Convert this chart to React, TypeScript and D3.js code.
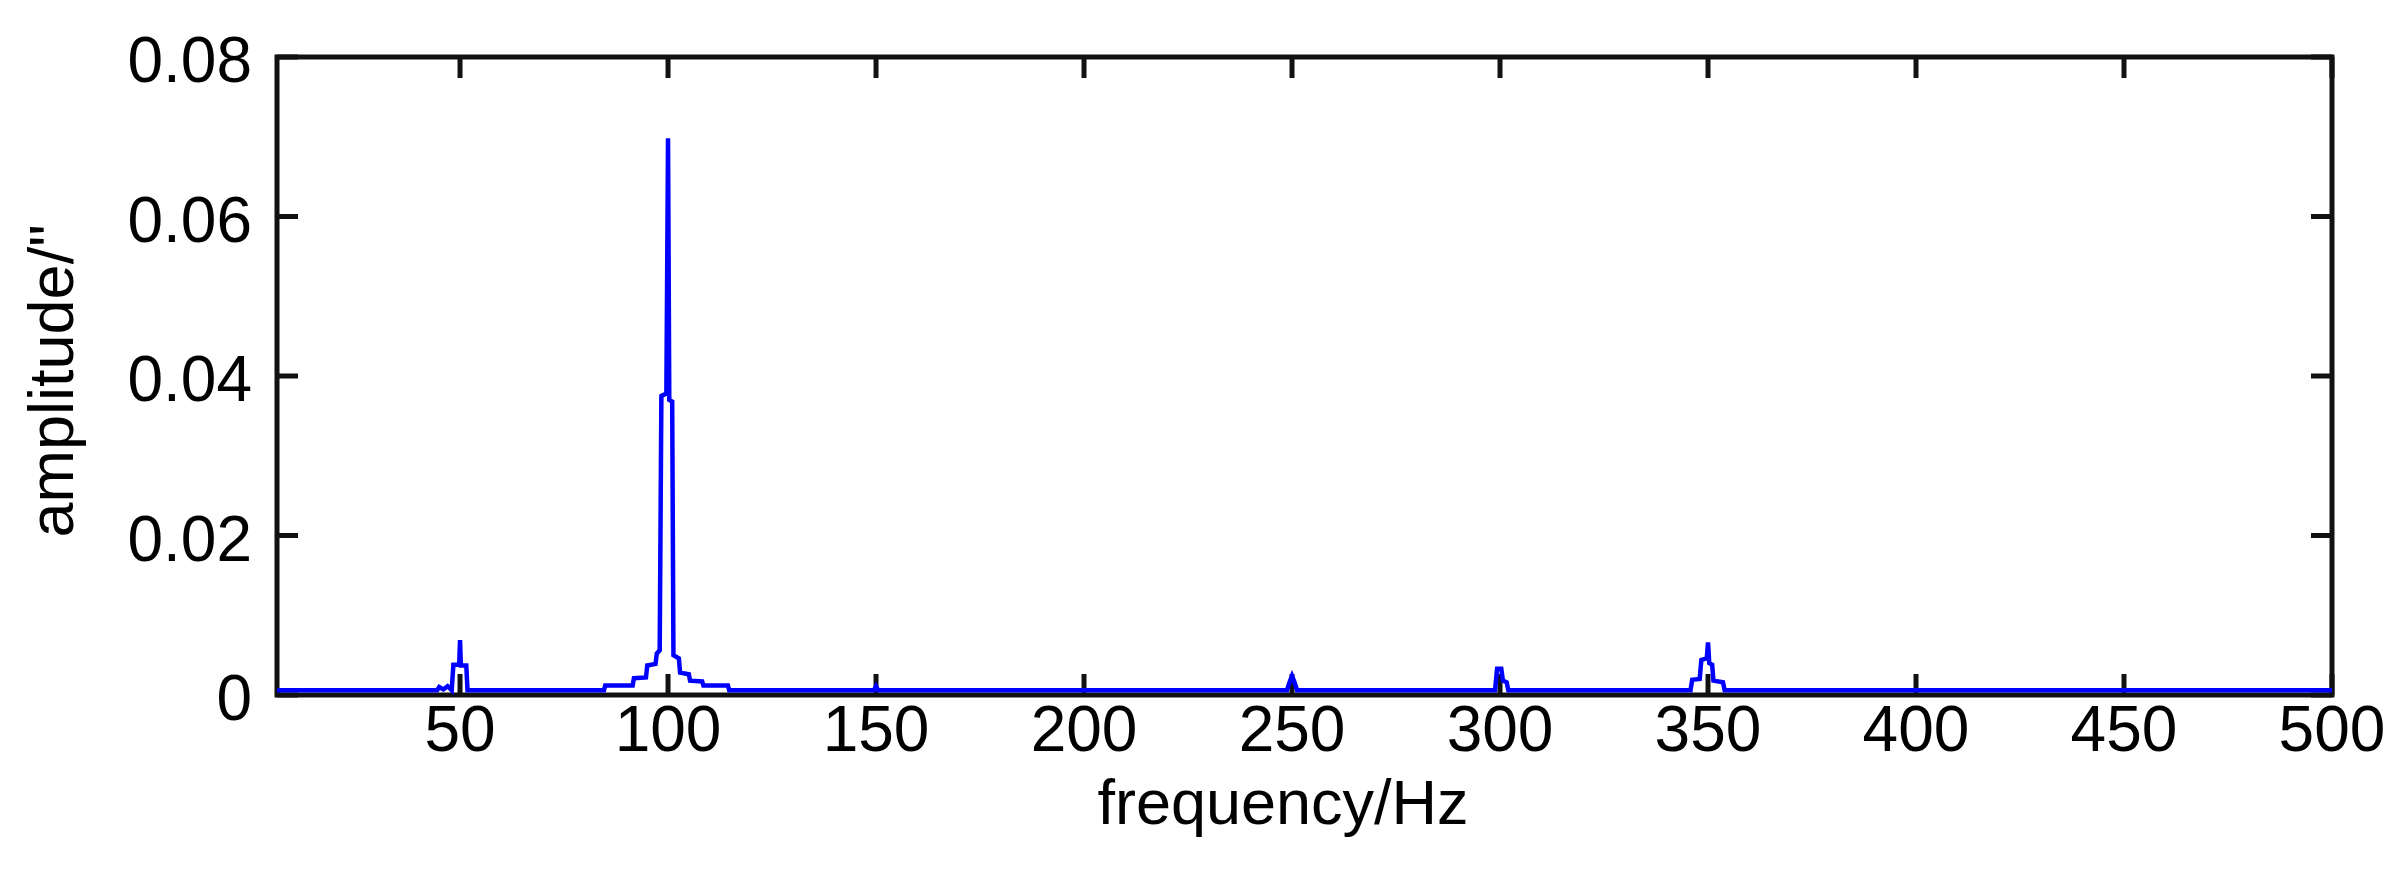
import { useMemo } from 'react';
import * as d3 from 'd3';

// spectrum: [frequency Hz, amplitude]
const FLOOR = 0.0005;
const startPoint: [number, number][] = [[6, 0.0006]];
const peak50: [number, number][] = [
  [44.5, 0.0006], [45, 0.0010], [46, 0.0007], [47, 0.0011], [48, 0.0006],
  [48.4, 0.0038], [49.8, 0.0038], [50, 0.0069], [50.2, 0.0037], [51.5, 0.0037], [51.8, 0.0006],
];
const peak100: [number, number][] = [
  [84.6, 0.0006], [84.9, 0.0012], [91.5, 0.0012], [91.8, 0.0021], [94.7, 0.0022],
  [95, 0.0037], [97, 0.0039], [97.3, 0.0052], [98, 0.0056], [98.4, 0.0375],
  [99.6, 0.0378], [100, 0.0698], [100.3, 0.0370], [101, 0.0368], [101.3, 0.0050],
  [102.6, 0.0046], [102.9, 0.0028], [105, 0.0026], [105.3, 0.0018], [108.2, 0.0017],
  [108.5, 0.0012], [114.4, 0.0012], [114.7, 0.0006],
];
const peak150: [number, number][] = [[149.5, 0.0006], [150, 0.0011], [150.5, 0.0006]];
const peak250: [number, number][] = [
  [248.8, 0.0006], [249.4, 0.0016], [250, 0.0024], [250.6, 0.0016], [251.2, 0.0006],
];
const peak300: [number, number][] = [
  [298.8, 0.0006], [299.3, 0.0033], [300.3, 0.0033], [300.7, 0.0018], [301.6, 0.0016], [302, 0.0006],
];
const peak350: [number, number][] = [
  [345.8, 0.0006], [346.2, 0.0019], [348, 0.0020], [348.4, 0.0044], [349.7, 0.0046],
  [350, 0.0066], [350.3, 0.0040], [351, 0.0038], [351.3, 0.0018], [353.6, 0.0016], [354, 0.0006],
];
const endPoint: [number, number][] = [[500, 0.0006]];

const xTicks = [50, 100, 150, 200, 250, 300, 350, 400, 450, 500];
const yTicks = [0, 0.02, 0.04, 0.06, 0.08];
const yTickLabels = ['0', '0.02', '0.04', '0.06', '0.08'];
const xLabel = 'frequency/Hz';
const yLabel = 'amplitude/"';

const W = 2396, H = 896;
const M = { left: 277, right: 2332, top: 57, bottom: 695 };
const FONT = '"Liberation Sans", Arial, Helvetica, sans-serif';
const FS = 64;
const TICK = 21;
const AX = '#111';

export default function App() {
  const x = useMemo(() => d3.scaleLinear().domain([6, 500]).range([M.left, M.right]), []);
  const y = useMemo(() => d3.scaleLinear().domain([0, 0.08]).range([M.bottom, M.top]), []);

  const series = [...startPoint, ...peak50, ...peak100, ...peak150, ...peak250, ...peak300, ...peak350, ...endPoint];
  const path = d3.line<[number, number]>().x(d => x(d[0])).y(d => y(Math.max(d[1], FLOOR)))(series) ?? '';

  return (
    <svg width={W} height={H} style={{ position: 'absolute', left: 0, top: 0, background: '#fff' }}>
      <rect x={0} y={0} width={W} height={H} fill="#fff" />

      {/* box */}
      <rect x={M.left} y={M.top} width={M.right - M.left} height={M.bottom - M.top}
        fill="none" stroke={AX} strokeWidth={5} />

      {/* x ticks top + bottom */}
      {xTicks.map(t => (
        <g key={'x' + t}>
          <line x1={x(t)} x2={x(t)} y1={M.bottom} y2={M.bottom - TICK} stroke={AX} strokeWidth={5} />
          <line x1={x(t)} x2={x(t)} y1={M.top} y2={M.top + TICK} stroke={AX} strokeWidth={5} />
          <text x={x(t)} y={751} textAnchor="middle" fontFamily={FONT} fontSize={FS} fill="#000">{t}</text>
        </g>
      ))}

      {/* y ticks left + right */}
      {yTicks.map((t, i) => (
        <g key={'y' + t}>
          <line x1={M.left} x2={M.left + TICK} y1={y(t)} y2={y(t)} stroke={AX} strokeWidth={5} />
          <line x1={M.right} x2={M.right - TICK} y1={y(t)} y2={y(t)} stroke={AX} strokeWidth={5} />
          <text x={252} y={y(t) + 25} textAnchor="end" fontFamily={FONT} fontSize={FS} fill="#000">{yTickLabels[i]}</text>
        </g>
      ))}

      {/* data */}
      <path d={path} fill="none" stroke="#0000ff" strokeWidth={4.5} strokeLinejoin="miter" />

      <text x={1283} y={824} textAnchor="middle" fontFamily={FONT} fontSize={63} fill="#000">{xLabel}</text>
      <text transform={`translate(73,381) rotate(-90)`} textAnchor="middle" fontFamily={FONT} fontSize={63} fill="#000">{yLabel}</text>
    </svg>
  );
}
